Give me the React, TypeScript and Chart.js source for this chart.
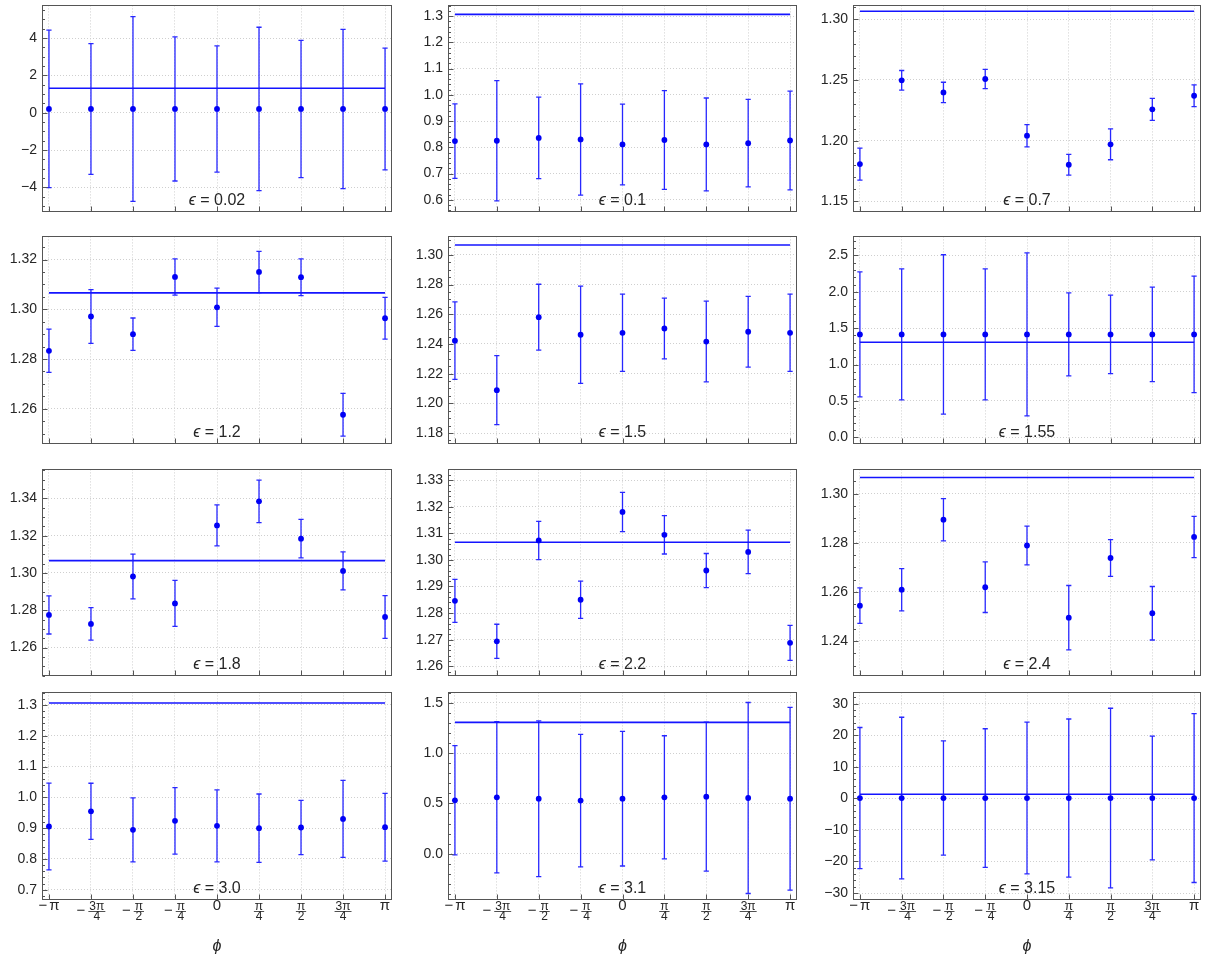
import React, { useEffect, useRef } from "react";
import { Chart, registerables } from "chart.js";

Chart.register(...registerables);

const FONT = '"Liberation Sans", "DejaVu Sans", Arial, sans-serif';
const BLUE = "rgb(0,0,245)";
const BAR = "rgb(40,40,255)";
const TEXT = "#262626";
const FRAME = "#555555";
const GRID = "#cfcfcf";

// ---- shared axis data ----
const phi = [-Math.PI, -0.75 * Math.PI, -0.5 * Math.PI, -0.25 * Math.PI, 0, 0.25 * Math.PI, 0.5 * Math.PI, 0.75 * Math.PI, Math.PI];
const phiTickLabels = ["−π", "−3π/4", "−π/2", "−π/4", "0", "π/4", "π/2", "3π/4", "π"];
const refLevel = 1.3066;

// ---- panel values (mean, error) ----
const mean002 = [0.2, 0.2, 0.2, 0.2, 0.2, 0.2, 0.2, 0.2, 0.2];
const err002 = [4.22, 3.5, 4.95, 3.86, 3.38, 4.38, 3.68, 4.27, 3.26];
const yTicks002 = [-4, -2, 0, 2, 4];

const mean01 = [0.824, 0.825, 0.836, 0.83, 0.811, 0.828, 0.811, 0.816, 0.826];
const err01 = [0.142, 0.229, 0.155, 0.212, 0.154, 0.188, 0.177, 0.167, 0.188];
const yTicks01 = [0.6, 0.7, 0.8, 0.9, 1.0, 1.1, 1.2, 1.3];

const mean07 = [1.1807, 1.2497, 1.2397, 1.2508, 1.2041, 1.1802, 1.197, 1.2258, 1.237];
const err07 = [0.0131, 0.0081, 0.0084, 0.008, 0.0092, 0.0085, 0.0127, 0.009, 0.009];
const yTicks07 = [1.15, 1.2, 1.25, 1.3];

const mean12 = [1.2833, 1.2971, 1.29, 1.313, 1.3008, 1.315, 1.3129, 1.2576, 1.2964];
const err12 = [0.0087, 0.0108, 0.0065, 0.0073, 0.0077, 0.0083, 0.0074, 0.0086, 0.0084];
const yTicks12 = [1.26, 1.28, 1.3, 1.32];

const mean15 = [1.2422, 1.2089, 1.258, 1.2462, 1.2475, 1.2504, 1.2416, 1.2482, 1.2475];
const err15 = [0.0261, 0.0232, 0.0222, 0.0327, 0.026, 0.0205, 0.0272, 0.0238, 0.026];
const yTicks15 = [1.18, 1.2, 1.22, 1.24, 1.26, 1.28, 1.3];

const mean155 = [1.415, 1.415, 1.415, 1.415, 1.415, 1.415, 1.415, 1.415, 1.415];
const err155 = [0.86, 0.9, 1.095, 0.9, 1.12, 0.57, 0.54, 0.65, 0.8];
const yTicks155 = [0, 0.5, 1.0, 1.5, 2.0, 2.5];

const mean18 = [1.2775, 1.2727, 1.2981, 1.2837, 1.3255, 1.3384, 1.3184, 1.3011, 1.2764];
const err18 = [0.0102, 0.0087, 0.012, 0.0123, 0.011, 0.0114, 0.0103, 0.0102, 0.0115];
const yTicks18 = [1.26, 1.28, 1.3, 1.32, 1.34];

const mean22 = [1.2846, 1.2694, 1.3073, 1.285, 1.318, 1.3094, 1.296, 1.303, 1.2688];
const err22 = [0.0081, 0.0064, 0.0072, 0.007, 0.0074, 0.0072, 0.0064, 0.0082, 0.0066];
const yTicks22 = [1.26, 1.27, 1.28, 1.29, 1.3, 1.31, 1.32, 1.33];

const mean24 = [1.2544, 1.2609, 1.2894, 1.2619, 1.2789, 1.2495, 1.2738, 1.2513, 1.2824];
const err24 = [0.0072, 0.0086, 0.0086, 0.0103, 0.0079, 0.0131, 0.0075, 0.0109, 0.0084];
const yTicks24 = [1.24, 1.26, 1.28, 1.3];

const mean30 = [0.9054, 0.9548, 0.8946, 0.9237, 0.9075, 0.9, 0.9022, 0.9301, 0.9032];
const err30 = [0.141, 0.091, 0.104, 0.108, 0.117, 0.111, 0.088, 0.125, 0.11];
const yTicks30 = [0.7, 0.8, 0.9, 1.0, 1.1, 1.2, 1.3];

const mean31 = [0.531, 0.561, 0.547, 0.528, 0.547, 0.561, 0.567, 0.554, 0.547];
const err31 = [0.544, 0.753, 0.775, 0.66, 0.67, 0.613, 0.742, 0.951, 0.91];
const yTicks31 = [0, 0.5, 1.0, 1.5];

const mean315 = [0.1, 0.1, 0.1, 0.1, 0.1, 0.1, 0.1, 0.1, 0.1];
const err315 = [22.35, 25.6, 18.1, 21.95, 24.05, 25.05, 28.45, 19.6, 26.75];
const yTicks315 = [-30, -20, -10, 0, 10, 20, 30];

type Spec = {
  eps: string;
  mean: number[];
  err: number[];
  yMin: number;
  yMax: number;
  yTicks: number[];
  dec: number;
  minor: number;
  row: number;
  col: number;
};

const panels: Spec[] = [
  { eps: "0.02", mean: mean002, err: err002, yMin: -5.3, yMax: 5.75, yTicks: yTicks002, dec: 0, minor: 0.5, row: 0, col: 0 },
  { eps: "0.1", mean: mean01, err: err01, yMin: 0.555, yMax: 1.341, yTicks: yTicks01, dec: 1, minor: 0.02, row: 0, col: 1 },
  { eps: "0.7", mean: mean07, err: err07, yMin: 1.1416, yMax: 1.3114, yTicks: yTicks07, dec: 2, minor: 0.01, row: 0, col: 2 },
  { eps: "1.2", mean: mean12, err: err12, yMin: 1.246, yMax: 1.3293, yTicks: yTicks12, dec: 2, minor: 0.005, row: 1, col: 0 },
  { eps: "1.5", mean: mean15, err: err15, yMin: 1.1729, yMax: 1.3124, yTicks: yTicks15, dec: 2, minor: 0.005, row: 1, col: 1 },
  { eps: "1.55", mean: mean155, err: err155, yMin: -0.086, yMax: 2.762, yTicks: yTicks155, dec: 1, minor: 0.1, row: 1, col: 2 },
  { eps: "1.8", mean: mean18, err: err18, yMin: 1.245, yMax: 1.3555, yTicks: yTicks18, dec: 2, minor: 0.005, row: 2, col: 0 },
  { eps: "2.2", mean: mean22, err: err22, yMin: 1.2565, yMax: 1.334, yTicks: yTicks22, dec: 2, minor: 0.002, row: 2, col: 1 },
  { eps: "2.4", mean: mean24, err: err24, yMin: 1.2259, yMax: 1.3099, yTicks: yTicks24, dec: 2, minor: 0.005, row: 2, col: 2 },
  { eps: "3.0", mean: mean30, err: err30, yMin: 0.6667, yMax: 1.3409, yTicks: yTicks30, dec: 1, minor: 0.02, row: 3, col: 0 },
  { eps: "3.1", mean: mean31, err: err31, yMin: -0.4616, yMax: 1.6055, yTicks: yTicks31, dec: 1, minor: 0.1, row: 3, col: 1 },
  { eps: "3.15", mean: mean315, err: err315, yMin: -32.2, yMax: 33.57, yTicks: yTicks315, dec: 0, minor: 2, row: 3, col: 2 },
];

// ---- layout (pixels) ----
const colLeft = [42, 448, 853];
const colRight = [392, 797, 1202];
const rowTop = [4, 235, 468, 691];
const rowBottom = [213, 445, 677, 900];
const X_PAD = 0.13;

function fmt(v: number, dec: number) {
  const s = Math.abs(v) < 1e-9 ? (0).toFixed(dec) : v.toFixed(dec);
  return s.replace("-", "\u2212");
}

function makePlugin(spec: Spec) {
  return {
    id: "decor",
    beforeDatasetsDraw(chart: any) {
      const ctx = chart.ctx;
      const xs = chart.scales.x;
      const ys = chart.scales.y;
      ctx.save();
      ctx.strokeStyle = BAR;
      ctx.lineWidth = 1.3;
      spec.mean.forEach((m, i) => {
        const x = xs.getPixelForValue(phi[i]);
        const y1 = ys.getPixelForValue(m + spec.err[i]);
        const y2 = ys.getPixelForValue(m - spec.err[i]);
        ctx.beginPath();
        ctx.moveTo(x, y1);
        ctx.lineTo(x, y2);
        ctx.moveTo(x - 2.6, y1);
        ctx.lineTo(x + 2.6, y1);
        ctx.moveTo(x - 2.6, y2);
        ctx.lineTo(x + 2.6, y2);
        ctx.stroke();
      });
      ctx.restore();
    },
    afterDraw(chart: any) {
      const ctx = chart.ctx;
      const a = chart.chartArea;
      const xs = chart.scales.x;
      const ys = chart.scales.y;
      ctx.save();
      // frame
      const l = Math.round(a.left) + 0.5;
      const r = Math.round(a.right) - 0.5;
      const t = Math.round(a.top) + 0.5;
      const b = Math.round(a.bottom) - 0.5;
      ctx.strokeStyle = FRAME;
      ctx.lineWidth = 1;
      ctx.strokeRect(l, t, r - l, b - t);
      // y ticks inward (major + minor)
      ctx.beginPath();
      const k0 = Math.ceil(spec.yMin / spec.minor - 1e-6);
      const k1 = Math.floor(spec.yMax / spec.minor + 1e-6);
      for (let k = k0; k <= k1; k++) {
        const v = k * spec.minor;
        const isMajor = spec.yTicks.some((tv) => Math.abs(tv - v) < spec.minor * 0.1);
        const y = Math.round(ys.getPixelForValue(v)) + 0.5;
        ctx.moveTo(l, y);
        ctx.lineTo(l + (isMajor ? 5 : 2.5), y);
      }
      // x ticks inward
      phi.forEach((p) => {
        const x = Math.round(xs.getPixelForValue(p)) + 0.5;
        ctx.moveTo(x, b);
        ctx.lineTo(x, b - 5);
      });
      ctx.stroke();

      // epsilon label
      const cx = (a.left + a.right) / 2;
      const ly = a.bottom - 11.5;
      ctx.fillStyle = TEXT;
      ctx.textBaseline = "middle";
      ctx.font = `italic 16px ${FONT}`;
      const wE = ctx.measureText("ϵ").width;
      ctx.font = `16px ${FONT}`;
      const rest = " = " + spec.eps;
      const wR = ctx.measureText(rest).width;
      const x0 = cx - (wE + wR) / 2;
      ctx.textAlign = "left";
      ctx.font = `italic 16px ${FONT}`;
      ctx.fillText("ϵ", x0, ly);
      ctx.font = `16px ${FONT}`;
      ctx.fillText(rest, x0 + wE, ly);

      // bottom-row x labels
      if (spec.row === 3) {
        const base = a.bottom;
        phiTickLabels.forEach((lab, i) => {
          const x = xs.getPixelForValue(phi[i]);
          ctx.fillStyle = TEXT;
          ctx.textBaseline = "middle";
          if (lab.includes("/")) {
            const neg = lab.startsWith("−");
            const body = neg ? lab.slice(1) : lab;
            const [num, den] = body.split("/");
            ctx.font = `12px ${FONT}`;
            const fw = Math.max(ctx.measureText(num).width, ctx.measureText(den).width) + 2;
            ctx.font = `15px ${FONT}`;
            const wm = neg ? ctx.measureText("−").width + 3 : 0;
            const total = wm + fw;
            const sx = x - total / 2;
            if (neg) {
              ctx.textAlign = "left";
              ctx.fillText("−", sx, base + 10.5);
            }
            const fc = sx + wm + fw / 2;
            ctx.font = `12px ${FONT}`;
            ctx.textAlign = "center";
            ctx.fillText(num, fc, base + 6.5);
            ctx.fillText(den, fc, base + 17);
            ctx.fillRect(fc - fw / 2, base + 11.2, fw, 0.8);
          } else if (lab.startsWith("−")) {
            ctx.font = `15px ${FONT}`;
            const wm = ctx.measureText("−").width + 2;
            const wp = ctx.measureText(lab.slice(1)).width;
            const sx = x - (wm + wp) / 2;
            ctx.textAlign = "left";
            ctx.fillText("−", sx, base + 5.5);
            ctx.fillText(lab.slice(1), sx + wm, base + 5.5);
          } else {
            ctx.font = `15px ${FONT}`;
            ctx.textAlign = "center";
            ctx.fillText(lab, x, base + 5.5);
          }
        });
        ctx.font = `italic 16px ${FONT}`;
        ctx.textAlign = "center";
        ctx.fillText("ϕ", cx, base + 47);
      }
      ctx.restore();
    },
  };
}

function Panel({ spec }: { spec: Spec }) {
  const ref = useRef<HTMLCanvasElement>(null);
  const L = 42;
  const T = 12;
  const R = spec.col === 2 ? 3 : 6;
  const B = spec.row === 3 ? 58 : 12;
  const fw = colRight[spec.col] - colLeft[spec.col];
  const fh = rowBottom[spec.row] - rowTop[spec.row];
  const W = L + fw + R;
  const H = T + fh + B;

  useEffect(() => {
    if (!ref.current) return;
    const chart = new Chart(ref.current, {
      type: "scatter",
      data: {
        datasets: [
          {
            data: spec.mean.map((m, i) => ({ x: phi[i], y: m })),
            backgroundColor: BLUE,
            borderColor: BLUE,
            borderWidth: 0,
            pointRadius: 2.9,
            order: 0,
          },
          {
            data: [
              { x: phi[0], y: refLevel },
              { x: phi[phi.length - 1], y: refLevel },
            ],
            showLine: true,
            borderColor: "rgb(20,20,255)",
            borderWidth: 1.6,
            pointRadius: 0,
            fill: false,
            order: 1,
          },
        ],
      },
      options: {
        animation: false,
        responsive: false,
        devicePixelRatio: 1,
        events: [],
        layout: { padding: { left: 0, top: T, right: R, bottom: B } },
        plugins: { legend: { display: false }, tooltip: { enabled: false } },
        scales: {
          x: {
            type: "linear",
            min: -Math.PI - X_PAD,
            max: Math.PI + X_PAD,
            afterBuildTicks: (s: any) => {
              s.ticks = phi.map((v) => ({ value: v }));
            },
            afterFit: (s: any) => {
              s.height = 0;
            },
            ticks: { display: false },
            grid: { color: GRID, lineWidth: 1, drawTicks: false },
            border: { display: false, dash: [1, 2] },
          },
          y: {
            type: "linear",
            min: spec.yMin,
            max: spec.yMax,
            afterBuildTicks: (s: any) => {
              s.ticks = spec.yTicks.map((v) => ({ value: v }));
            },
            afterFit: (s: any) => {
              s.width = L;
            },
            ticks: {
              padding: 5,
              color: TEXT,
              font: { family: FONT, size: 14 },
              callback: (v: any) => fmt(Number(v), spec.dec),
            },
            grid: { color: GRID, lineWidth: 1, drawTicks: false },
            border: { display: false, dash: [1, 2] },
          },
        },
      },
      plugins: [makePlugin(spec)],
    } as any);
    return () => chart.destroy();
  }, []);

  return (
    <canvas
      ref={ref}
      width={W}
      height={H}
      style={{
        position: "absolute",
        left: colLeft[spec.col] - L,
        top: rowTop[spec.row] - T,
        width: W,
        height: H,
      }}
    />
  );
}

export default function App() {
  return (
    <div
      style={{
        position: "absolute",
        left: 0,
        top: 0,
        width: 1205,
        height: 959,
        overflow: "hidden",
        background: "#ffffff",
      }}
    >
      {panels.map((p, i) => (
        <Panel key={i} spec={p} />
      ))}
    </div>
  );
}
